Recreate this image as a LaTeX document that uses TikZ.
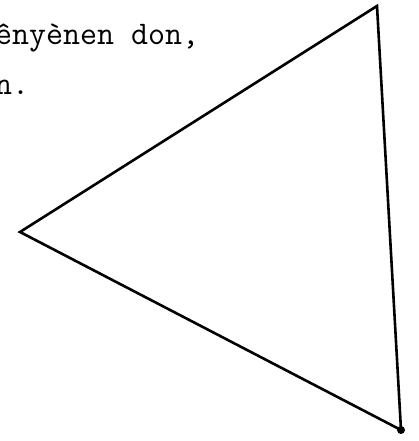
\documentclass[tikz,border=0pt]{standalone}
\usepackage{fontspec}
\usetikzlibrary{positioning}
\tikzset{
  txt/.style={font=\ttfamily\fontsize{33}{40}\selectfont, inner sep=0pt, anchor=base west},
  edge/.style={line width=2.6pt, line join=miter, black},
  corner/.style={circle, fill=black, inner sep=0pt, minimum size=8pt},
}

\begin{document}
\begin{tikzpicture}[x=1pt, y=1pt]
        \useasboundingbox (0,0) rectangle (418,441);
        \node[txt] (line1) at (-5,396) {ênyènen don,};
        \node[txt] (line2) at (-5,346) {n.};
        \coordinate (top) at (377,435);
        \coordinate (left) at (20,209);
        \coordinate (bottom) at (401,11);
        \draw[edge] (top) -- (left) -- (bottom) -- cycle;
        \node[corner] (dot) at (bottom) {};
      \end{tikzpicture}
\end{document}
